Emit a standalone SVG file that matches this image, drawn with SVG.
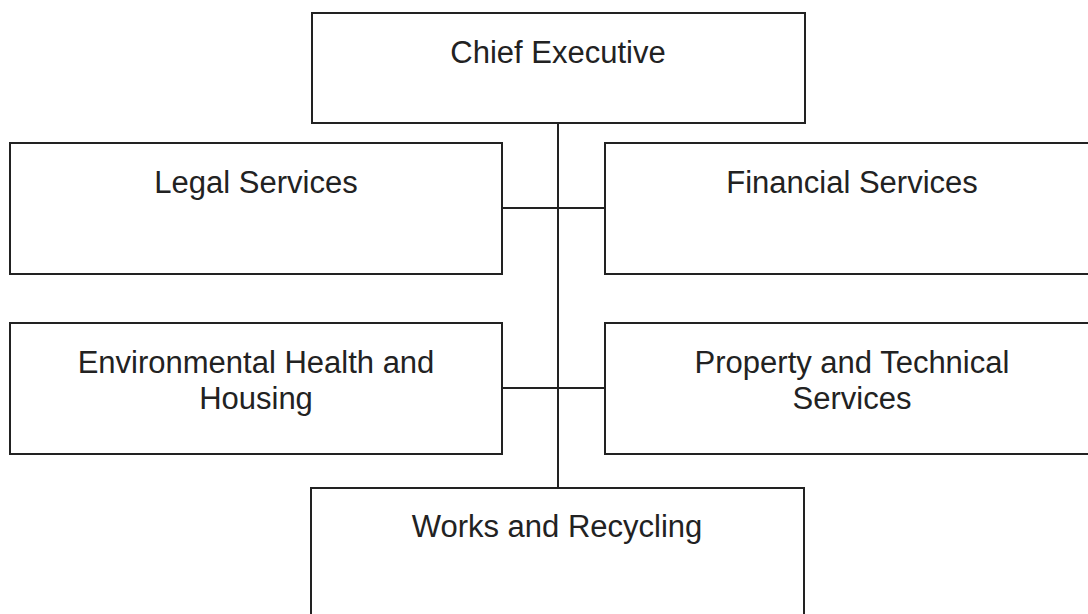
<svg xmlns="http://www.w3.org/2000/svg" width="1088" height="614" viewBox="0 0 1088 614">
<style>
.box{fill:#fff;stroke:#222;stroke-width:2}
.lbl{font-family:"Liberation Sans",Arial,sans-serif;font-size:31px;fill:#222;text-anchor:middle}
.con{stroke:#222;stroke-width:2;fill:none}
</style>
<rect width="1088" height="614" fill="#fff"/>
<g id="connectors">
<line class="con" x1="558" y1="123" x2="558" y2="488"/>
<line class="con" x1="502" y1="208" x2="605" y2="208"/>
<line class="con" x1="502" y1="388" x2="605" y2="388"/>
</g>
<g id="chief-executive">
<rect class="box" x="312" y="13" width="493" height="110"/>
<text class="lbl" x="558" y="63">Chief Executive</text>
</g>
<g id="legal-services">
<rect class="box" x="10" y="143" width="492" height="131"/>
<text class="lbl" x="256" y="193">Legal Services</text>
</g>
<g id="financial-services">
<rect class="box" x="605" y="143" width="494" height="131"/>
<text class="lbl" x="852" y="193">Financial Services</text>
</g>
<g id="environmental-health">
<rect class="box" x="10" y="323" width="492" height="131"/>
<text class="lbl" x="256" y="373">Environmental Health and</text>
<text class="lbl" x="256" y="409">Housing</text>
</g>
<g id="property-technical">
<rect class="box" x="605" y="323" width="494" height="131"/>
<text class="lbl" x="852" y="373">Property and Technical</text>
<text class="lbl" x="852" y="409">Services</text>
</g>
<g id="works-recycling">
<rect class="box" x="311" y="488" width="493" height="140"/>
<text class="lbl" x="557" y="537">Works and Recycling</text>
</g>
</svg>
